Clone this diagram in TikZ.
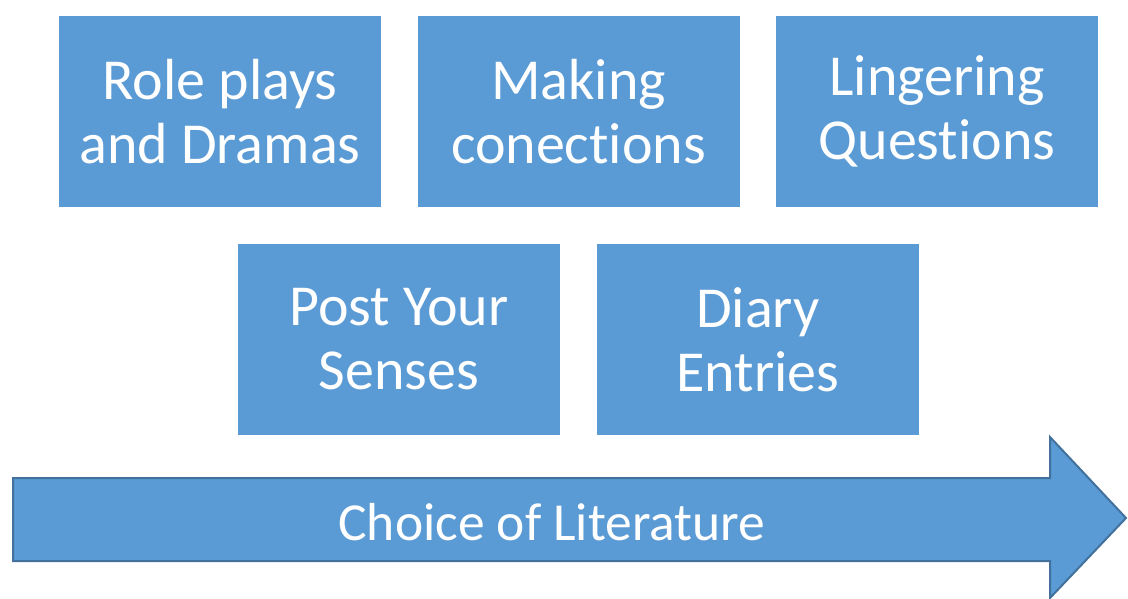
\documentclass[tikz,border=0pt]{standalone}
\usepackage{fontspec}
\setmainfont[Ligatures=NoCommon]{Carlito}
\usepackage{tikz}
\usetikzlibrary{positioning}

\definecolor{boxblue}{HTML}{5B9BD5}
\definecolor{arrowline}{HTML}{41719C}

\tikzset{
    idea/.style={fill=boxblue, text=white, minimum width=322pt, minimum height=191pt,
        inner sep=0pt, align=center, font=\fontsize{58}{64}\selectfont},
}

\begin{document}
\begin{tikzpicture}[x=1pt, y=-1pt]
    \useasboundingbox (0,0) rectangle (1128,599);

    \node[idea] (roles) at (220,111.5) {Role plays\\and Dramas};
    \node[idea] (connect) at (578.5,111.5) {Making\\conections};
    \node[idea] (questions) at (937,111.5) {Lingering\\Questions};
    \node[idea] (senses) at (399,339.5) {Post Your\\Senses};
    \node[idea] (diary) at (758,339.5) {Diary\\Entries};

    \draw[fill=boxblue, draw=arrowline, line width=2pt, line join=miter]
        (13,478) -- (1050,478) -- (1050,437) -- (1126,518)
        -- (1050,598) -- (1050,561) -- (13,561) -- cycle;
    \node[text=white, font=\fontsize{53.5}{60}\selectfont] (choice) at (552,522.5) {Choice of Literature};
\end{tikzpicture}
\end{document}
